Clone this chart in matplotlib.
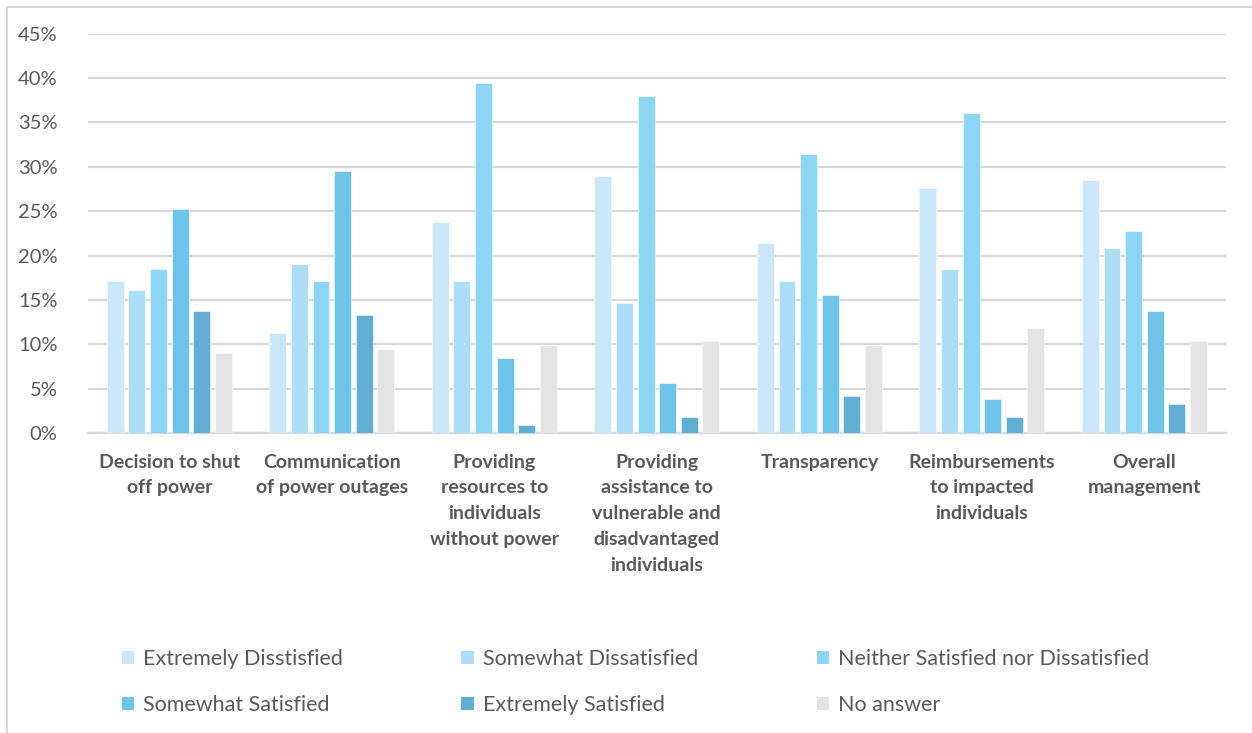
import numpy as np
import matplotlib
matplotlib.use("Agg")
import matplotlib.pyplot as plt
from matplotlib.patches import Patch, Rectangle

plt.rcParams["font.family"] = ["Lato", "DejaVu Sans"]

categorias = [
    "Decision to shut\noff power",
    "Communication\nof power outages",
    "Providing\nresources to\nindividuals\nwithout power",
    "Providing\nassistance to\nvulnerable and\ndisadvantaged\nindividuals",
    "Transparency",
    "Reimbursements\nto impacted\nindividuals",
    "Overall\nmanagement",
]

series_nomes = [
    "Extremely Disstisfied",
    "Somewhat Dissatisfied",
    "Neither Satisfied nor Dissatisfied",
    "Somewhat Satisfied",
    "Extremely Satisfied",
    "No answer",
]

extremamente_insatisfeito = [17.1, 11.3, 23.8, 29.0, 21.4, 27.6, 28.5]
pouco_insatisfeito = [16.1, 19.0, 17.1, 14.6, 17.1, 18.5, 20.9]
neutro = [18.5, 17.1, 39.4, 38.0, 31.4, 36.1, 22.8]
pouco_satisfeito = [25.2, 29.5, 8.5, 5.6, 15.6, 3.8, 13.8]
extremamente_satisfeito = [13.8, 13.3, 0.9, 1.8, 4.2, 1.8, 3.3]
sem_resposta = [9.0, 9.5, 9.9, 10.4, 9.9, 11.8, 10.4]

cores = ["#cae8f9", "#addef6", "#8cd5f4", "#6ec4e8", "#60aed1", "#e4e4e4"]

series = [
    extremamente_insatisfeito,
    pouco_insatisfeito,
    neutro,
    pouco_satisfeito,
    extremamente_satisfeito,
    sem_resposta,
]

fig = plt.figure(figsize=(12.52, 7.33), dpi=100)
ax = fig.add_axes([0.0703, 0.4093, 0.9087, 0.5447])

x = np.arange(len(categorias))
passo = 0.1329
largura = 0.104
for i, (valores, cor) in enumerate(zip(series, cores)):
    deslocamento = (i - 2.5) * passo
    ax.bar(x + deslocamento, np.array(valores) / 100, largura,
           color=cor, edgecolor="white", linewidth=0.4, zorder=3)

ax.set_xlim(-0.5, len(categorias) - 0.5)
ax.set_ylim(0, 0.45)
ax.set_yticks(np.arange(0, 0.451, 0.05))
ax.set_yticklabels([f"{int(round(v * 100))}%" for v in np.arange(0, 0.451, 0.05)],
                   fontsize=14.5, color="#595959")
ax.yaxis.grid(True, color="#d9d9d9", linewidth=1.6, zorder=0)
ax.set_xticks(x)
ax.set_xticklabels(categorias, fontsize=14, fontweight="bold", color="#595959",
                   linespacing=1.62, va="top")
ax.tick_params(axis="both", length=0)
ax.tick_params(axis="x", pad=15)
ax.tick_params(axis="y", pad=22)
for lado in ["top", "right", "left"]:
    ax.spines[lado].set_visible(False)
ax.spines["bottom"].set_color("#d9d9d9")
ax.spines["bottom"].set_linewidth(1.6)

# borda externa do gráfico (só esquerda e topo aparecem)
fig.add_artist(Rectangle((7 / 1252, -0.1), 1.2, 1 - 6.5 / 733 + 0.1,
                         transform=fig.transFigure, fill=False,
                         edgecolor="#d9d9d9", linewidth=1.5))

# legenda em 3 colunas, preenchida por linha
handles = [Patch(facecolor=c, edgecolor="none") for c in cores]
ordem = [0, 3, 1, 4, 2, 5]
leg = fig.legend([handles[i] for i in ordem], [series_nomes[i] for i in ordem],
                 ncol=3, loc="upper left", bbox_to_anchor=(0.0902, 0.126),
                 frameon=False, fontsize=15.5, handlelength=0.6, handleheight=0.6,
                 handletextpad=0.4, columnspacing=5.5, labelspacing=1.2,
                 borderaxespad=0)
for t in leg.get_texts():
    t.set_color("#595959")

fig.savefig("out.png", dpi=100)
